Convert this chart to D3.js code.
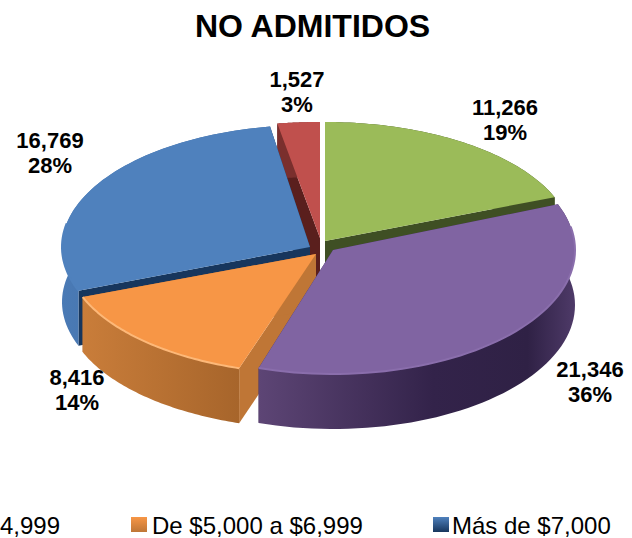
<!DOCTYPE html>
<html><head><meta charset="utf-8">
<script src="https://cdn.jsdelivr.net/npm/d3@7/dist/d3.min.js"></script>
<style>html,body{margin:0;padding:0;background:#fff;overflow:hidden}svg{display:block}text{font-family:"Liberation Sans",Arial,sans-serif}</style>
</head><body><svg id="c" width="632" height="538"></svg>
<script>
const chartTitle = "NO ADMITIDOS";
const categories = ["Green", "De $3,000 a $4,999", "De $5,000 a $6,999", "Más de $7,000", "Red"];
const values = [11266, 21346, 8416, 16769, 1527];
const valueLabels = ["11,266", "21,346", "8,416", "16,769", "1,527"];
const percentLabels = ["19%", "36%", "14%", "28%", "3%"];
const topColors = ["#9bbb59", "#8064a2", "#f79646", "#4f81bd", "#c0504d"];
const wallColors = ["#3f4f24", "#3d2c57", "#bf7636", "#17365d", "#5a1f1d"];
const outerShades = [["#3f4f24", "#3f4f24"], ["#5a4372", "#33234a"], ["#c97d3a", "#a7652b"], ["#4a7ab5", "#3a659c"], ["#7a2f2d", "#7a2f2d"]];
const rimColors = ["#b5cf7a", "#8a6eac", "#fdb878", "#4f81bd", "#d07572"];
const labelAnchors = [[505, 115], [590, 377], [77, 385], [50, 148], [297, 87]];
const drawOrder = [4, 0, 3, 2, 1];
const legendItems = [
  {label: "De $5,000 a $6,999", i: 2, sx: 131, tx: 152},
  {label: "Más de $7,000", i: 3, sx: 433, tx: 452}
];
// per-slice layout of the exploded, tilted pie: apex x, apex y, radius x, radius y
const sliceLayout = [
  [325, 241, 247, 119],
  [333, 250, 242, 124],
  [316, 254, 250, 120],
  [310, 247, 248, 122],
  [320, 238, 265, 116]
];

const svg = d3.select("#c");
const depth = 55;
const pie = d3.pie().sort(null).value(d => d)(values);
const line = d3.line();
const defs = svg.append("defs");

outerShades.forEach((s, i) => {
  const g = defs.append("linearGradient").attr("id", "w" + i);
  g.append("stop").attr("offset", 0).attr("stop-color", s[0]);
  g.append("stop").attr("offset", 1).attr("stop-color", s[1]);
});
const lg = defs.append("linearGradient").attr("id", "wPurple");
[["0", "#5d4575"], ["0.55", "#33234a"], ["0.85", "#2f2145"], ["1", "#4e3a68"]].forEach(s =>
  lg.append("stop").attr("offset", s[0]).attr("stop-color", s[1]));
legendItems.forEach(l => {
  const g = defs.append("linearGradient").attr("id", "lg" + l.i).attr("x2", 0).attr("y2", 1);
  g.append("stop").attr("offset", 0).attr("stop-color", topColors[l.i]);
  g.append("stop").attr("offset", 1).attr("stop-color", wallColors[l.i]);
});

drawOrder.forEach(i => {
  const d = pie[i];
  const [ax, ay, rx, ry] = sliceLayout[i];
  const P = (a, dz) => [ax + rx * Math.sin(a), ay - ry * Math.cos(a) + dz];
  const arcA = d3.range(0, 61).map(k => d.startAngle + (d.endAngle - d.startAngle) * k / 60);
  const g = svg.append("g");
  const apex = [ax, ay], apexB = [ax, ay + depth];
  [d.startAngle, d.endAngle].forEach(a => {
    g.append("path").attr("fill", wallColors[i]).attr("d",
      line([apex, P(a, 0), P(a, depth), apexB]) + "Z");
  });
  const top = arcA.map(a => P(a, 0));
  const bot = arcA.map(a => P(a, depth)).reverse();
  g.append("path").attr("fill", i === 1 ? "url(#wPurple)" : `url(#w${i})`).attr("d", line(top.concat(bot)) + "Z");
  g.append("path").attr("fill", topColors[i]).attr("d", line([apex].concat(top)) + "Z");
  const front = arcA.filter(a => Math.cos(a) < 0.2).map(a => P(a, 0));
  if (front.length) g.append("path").attr("fill", "none").attr("stroke", rimColors[i]).attr("stroke-width", 2).attr("d", line(front));
});

svg.append("text").attr("x", 312.5).attr("y", 37).attr("text-anchor", "middle")
  .attr("font-size", 32).attr("font-weight", "bold").attr("fill", "#000").text(chartTitle);

valueLabels.forEach((v, i) => {
  const [x, y] = labelAnchors[i];
  const t = svg.append("text").attr("text-anchor", "middle").attr("font-size", 22).attr("font-weight", "bold").attr("fill", "#000");
  t.append("tspan").attr("x", x).attr("y", y).text(v);
  t.append("tspan").attr("x", x).attr("y", y + 25).text(percentLabels[i]);
});

svg.append("text").attr("x", 0).attr("y", 534).attr("font-size", 24).attr("fill", "#000").text("4,999");
legendItems.forEach(l => {
  svg.append("rect").attr("x", l.sx).attr("y", 517).attr("width", 16).attr("height", 15).attr("fill", `url(#lg${l.i})`);
  svg.append("text").attr("x", l.tx).attr("y", 534).attr("font-size", 24).attr("fill", "#000").text(l.label);
});
</script></body></html>
